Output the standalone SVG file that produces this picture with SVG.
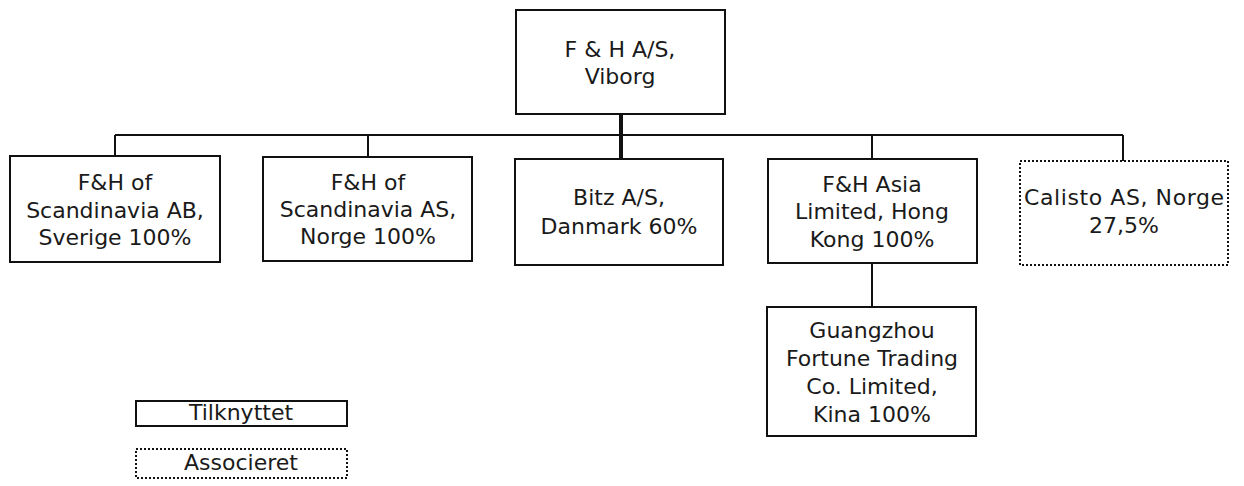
<svg xmlns="http://www.w3.org/2000/svg" width="1244" height="486" viewBox="0 0 1244 486">
<style>
.box{fill:#fff;stroke:#111;stroke-width:2}
.dot{fill:#fff;stroke:#111;stroke-width:2;stroke-dasharray:2 2}
.t{font-family:"DejaVu Sans",Verdana,sans-serif;font-size:22px;fill:#1a1a1a;text-anchor:middle}
.c{stroke:#111;stroke-width:2;fill:none}
</style>
<rect width="1244" height="486" fill="#fff"/>
<g id="connectors">
<line class="c" x1="115" y1="135" x2="1123" y2="135"/>
<line class="c" x1="115" y1="135" x2="115" y2="156"/>
<line class="c" x1="368" y1="135" x2="368" y2="157"/>
<line class="c" x1="872" y1="135" x2="872" y2="159"/>
<line class="c" x1="1123" y1="135" x2="1123" y2="161"/>
<line x1="621" y1="114" x2="621" y2="159" stroke="#111" stroke-width="4"/>
<line class="c" x1="872" y1="263" x2="872" y2="307"/>
</g>
<g id="n-fh">
<rect class="box" x="516" y="10" width="209" height="104"/>
<text class="t" x="620" y="57">F &amp; H A/S,</text>
<text class="t" x="620" y="84">Viborg</text>
</g>
<g id="n-se">
<rect class="box" x="10" y="156" width="210" height="106"/>
<text class="t" x="115" y="190">F&amp;H of</text>
<text class="t" x="115" y="218">Scandinavia AB,</text>
<text class="t" x="115" y="245">Sverige 100%</text>
</g>
<g id="n-no">
<rect class="box" x="263" y="157" width="209" height="104"/>
<text class="t" x="368" y="190">F&amp;H of</text>
<text class="t" x="368" y="217">Scandinavia AS,</text>
<text class="t" x="368" y="244">Norge 100%</text>
</g>
<g id="n-bitz">
<rect class="box" x="515" y="159" width="208" height="106"/>
<text class="t" x="619" y="205">Bitz A/S,</text>
<text class="t" x="619" y="234">Danmark 60%</text>
</g>
<g id="n-asia">
<rect class="box" x="768" y="159" width="209" height="104"/>
<text class="t" x="872" y="192">F&amp;H Asia</text>
<text class="t" x="872" y="219">Limited, Hong</text>
<text class="t" x="872" y="247">Kong 100%</text>
</g>
<g id="n-calisto">
<rect class="dot" x="1020" y="161" width="208" height="104"/>
<text class="t" x="1124" y="205" textLength="200">Calisto AS, Norge</text>
<text class="t" x="1124" y="233">27,5%</text>
</g>
<g id="n-guangzhou">
<rect class="box" x="767" y="307" width="209" height="129"/>
<text class="t" x="872" y="338">Guangzhou</text>
<text class="t" x="872" y="366">Fortune Trading</text>
<text class="t" x="872" y="394">Co. Limited,</text>
<text class="t" x="872" y="422">Kina 100%</text>
</g>
<g id="legend-tilknyttet">
<rect class="box" x="136" y="401" width="211" height="25"/>
<text class="t" x="241" y="420">Tilknyttet</text>
</g>
<g id="legend-associeret">
<rect class="dot" x="136" y="449" width="211" height="29"/>
<text class="t" x="241" y="470">Associeret</text>
</g>
</svg>
